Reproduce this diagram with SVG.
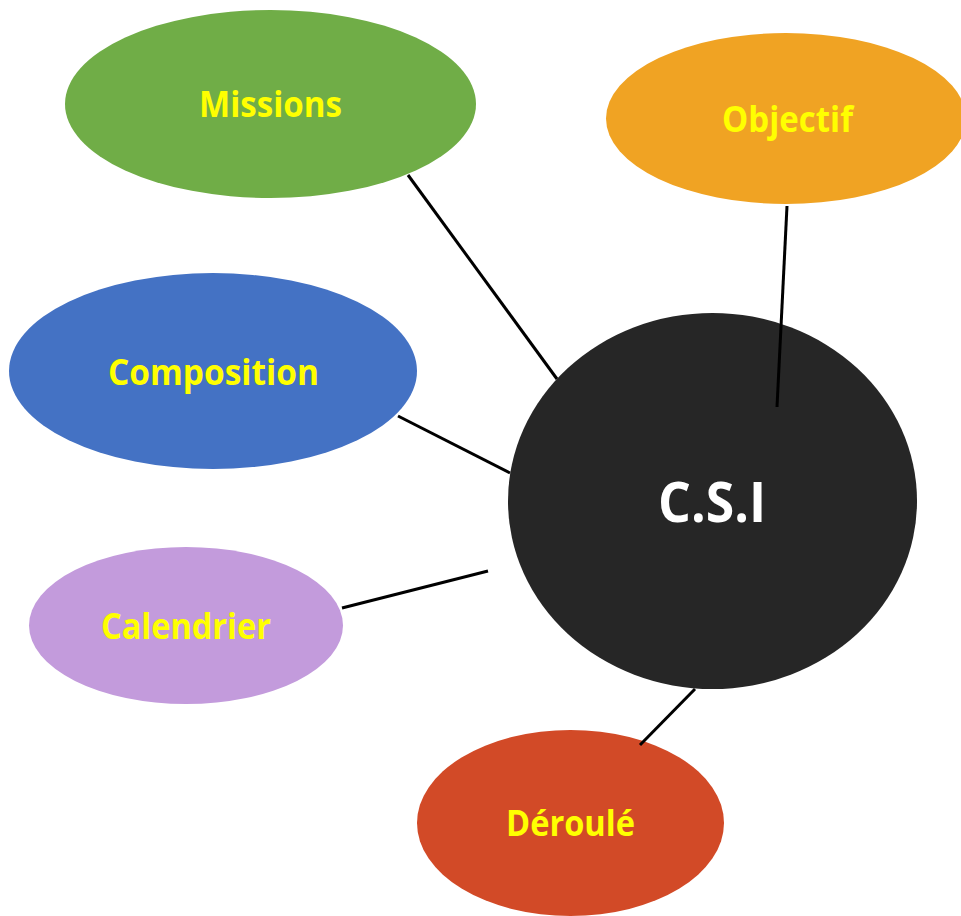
<svg xmlns="http://www.w3.org/2000/svg" width="961" height="916" viewBox="0 0 961 916">
  <style>
    .lbl { font-family: "Open Sans", "Noto Sans", "Liberation Sans", sans-serif; font-weight: bold; font-size: 35px; fill: #FFFF00; text-anchor: middle; }
    .hub { font-family: "Open Sans", "Noto Sans", "Liberation Sans", sans-serif; font-weight: bold; font-size: 55px; fill: #FFFFFF; text-anchor: middle; }
    .link { stroke: #000000; stroke-width: 3; fill: none; }
  </style>
  <rect width="961" height="916" fill="#FFFFFF"/>

  <g id="missions">
    <ellipse cx="270.5" cy="104" rx="205.5" ry="94" fill="#70AD47"/>
    <text class="lbl" x="270.5" y="117" textLength="143" lengthAdjust="spacingAndGlyphs">Missions</text>
  </g>
  <g id="objectif">
    <ellipse cx="786" cy="118.5" rx="180" ry="85.5" fill="#F0A323"/>
    <text class="lbl" x="787.5" y="132" textLength="131" lengthAdjust="spacingAndGlyphs">Objectif</text>
  </g>
  <g id="composition">
    <ellipse cx="213" cy="371" rx="204" ry="98" fill="#4472C4"/>
    <text class="lbl" x="213.5" y="385" textLength="211" lengthAdjust="spacingAndGlyphs">Composition</text>
  </g>
  <g id="calendrier">
    <ellipse cx="186" cy="625.5" rx="157" ry="78.5" fill="#C39BDC"/>
    <text class="lbl" x="186" y="639" textLength="170" lengthAdjust="spacingAndGlyphs">Calendrier</text>
  </g>
  <g id="deroule">
    <ellipse cx="570.5" cy="823" rx="153.5" ry="93" fill="#D24A27"/>
    <text class="lbl" x="570.5" y="836" textLength="129" lengthAdjust="spacingAndGlyphs">Déroulé</text>
  </g>
  <g id="csi">
    <ellipse cx="712.5" cy="501" rx="204.5" ry="188" fill="#262626"/>
    <text class="hub" x="712" y="522" textLength="108" lengthAdjust="spacingAndGlyphs">C.S.I</text>
  </g>

  <g id="connectors">
    <line class="link" x1="408" y1="175" x2="557" y2="379"/>
    <line class="link" x1="787" y1="206" x2="777" y2="407"/>
    <line class="link" x1="398" y1="416" x2="510" y2="473"/>
    <line class="link" x1="342" y1="608" x2="488" y2="571"/>
    <line class="link" x1="695" y1="689" x2="640" y2="745"/>
  </g>
</svg>
